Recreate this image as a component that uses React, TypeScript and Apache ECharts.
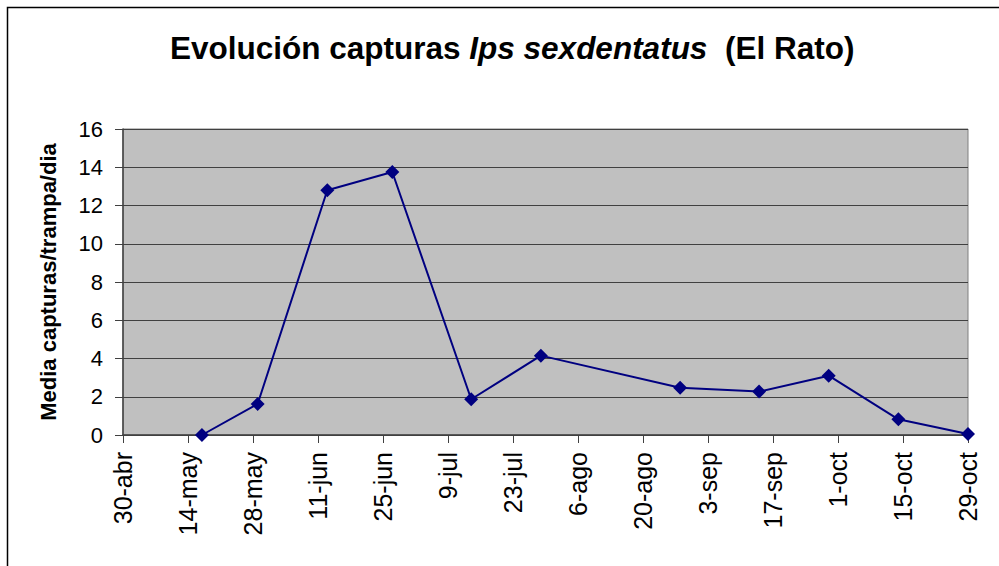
import React, { useEffect, useRef } from "react";
import * as echarts from "echarts";

const baseDate = "2007-04-30";
const tickLabels = [
  "30-abr", "14-may", "28-may", "11-jun", "25-jun", "9-jul", "23-jul",
  "6-ago", "20-ago", "3-sep", "17-sep", "1-oct", "15-oct", "29-oct",
];
const sampleDates = [
  "2007-05-17", "2007-05-29", "2007-06-13", "2007-06-27", "2007-07-14",
  "2007-07-29", "2007-08-28", "2007-09-14", "2007-09-29", "2007-10-14",
  "2007-10-29",
];
const captures = [0, 1.62, 12.8, 13.75, 1.87, 4.15, 2.47, 2.27, 3.1, 0.82, 0.05];

const DAY = 86400000;
const dayOffset = (d: string) =>
  Math.round((Date.parse(d + "T00:00:00Z") - Date.parse(baseDate + "T00:00:00Z")) / DAY);

export default function App() {
  const ref = useRef<HTMLDivElement>(null);
  useEffect(() => {
    if (!ref.current) return;
    const chart = echarts.init(ref.current, null, { renderer: "svg" });
    const data = sampleDates.map((d, i) => [dayOffset(d), captures[i]]);
    const font = "Arial, 'Liberation Sans', sans-serif";
    chart.setOption({
      animation: false,
      backgroundColor: "#ffffff",
      title: {
        text: "{a|Evolución capturas }{b|Ips sexdentatus}{a|  (El Rato)}",
        left: 165,
        top: 24,
        textStyle: {
          rich: {
            a: { fontFamily: font, fontWeight: "bold", fontSize: 31.5, color: "#000", lineHeight: 38 },
            b: { fontFamily: font, fontWeight: "bold", fontStyle: "italic", fontSize: 31.5, color: "#000", lineHeight: 38 },
          },
        },
      },
      graphic: [
        {
          type: "rect",
          shape: { x: 7.5, y: 7.5, width: 1000, height: 600 },
          style: { fill: "none", stroke: "#000", lineWidth: 1.5 },
          silent: true,
        },
      ],
      grid: {
        left: 123,
        right: 31,
        top: 129,
        bottom: 131,
        containLabel: false,
        outerBoundsMode: "none",
        show: true,
        backgroundColor: "#C0C0C0",
        borderColor: "#808080",
        borderWidth: 1,
      },
      xAxis: {
        type: "value",
        min: 0,
        max: 182,
        interval: 14,
        axisLine: { show: true, onZero: false, lineStyle: { color: "#404040", width: 1.5 } },
        axisTick: { show: true, inside: false, length: 8, lineStyle: { color: "#404040", width: 1 } },
        splitLine: { show: false },
        axisLabel: {
          rotate: 90,
          margin: 17,
          fontFamily: font,
          fontSize: 25,
          color: "#000",
          formatter: (v: number) => tickLabels[Math.round(v / 14)] ?? "",
        },
      },
      yAxis: {
        type: "value",
        min: 0,
        max: 16,
        interval: 2,
        name: "Media capturas/trampa/dia",
        nameLocation: "middle",
        nameGap: 64,
        nameTextStyle: { fontFamily: font, fontWeight: "bold", fontSize: 22, color: "#000" },
        axisLine: { show: true, lineStyle: { color: "#404040", width: 1.5 } },
        axisTick: { show: true, inside: false, length: 8, lineStyle: { color: "#404040", width: 1 } },
        splitLine: { show: true, lineStyle: { color: "#404040", width: 1 } },
        axisLabel: { margin: 20, fontFamily: font, fontSize: 22, color: "#000" },
      },
      series: [
        {
          type: "line",
          data,
          symbol: "diamond",
          symbolSize: 14,
          itemStyle: { color: "#000080" },
          lineStyle: { color: "#000080", width: 2 },
        },
      ],
    });
    return () => chart.dispose();
  }, []);
  return (
    <div
      ref={ref}
      style={{ position: "fixed", left: 0, top: 0, width: 999, height: 566 }}
    />
  );
}
